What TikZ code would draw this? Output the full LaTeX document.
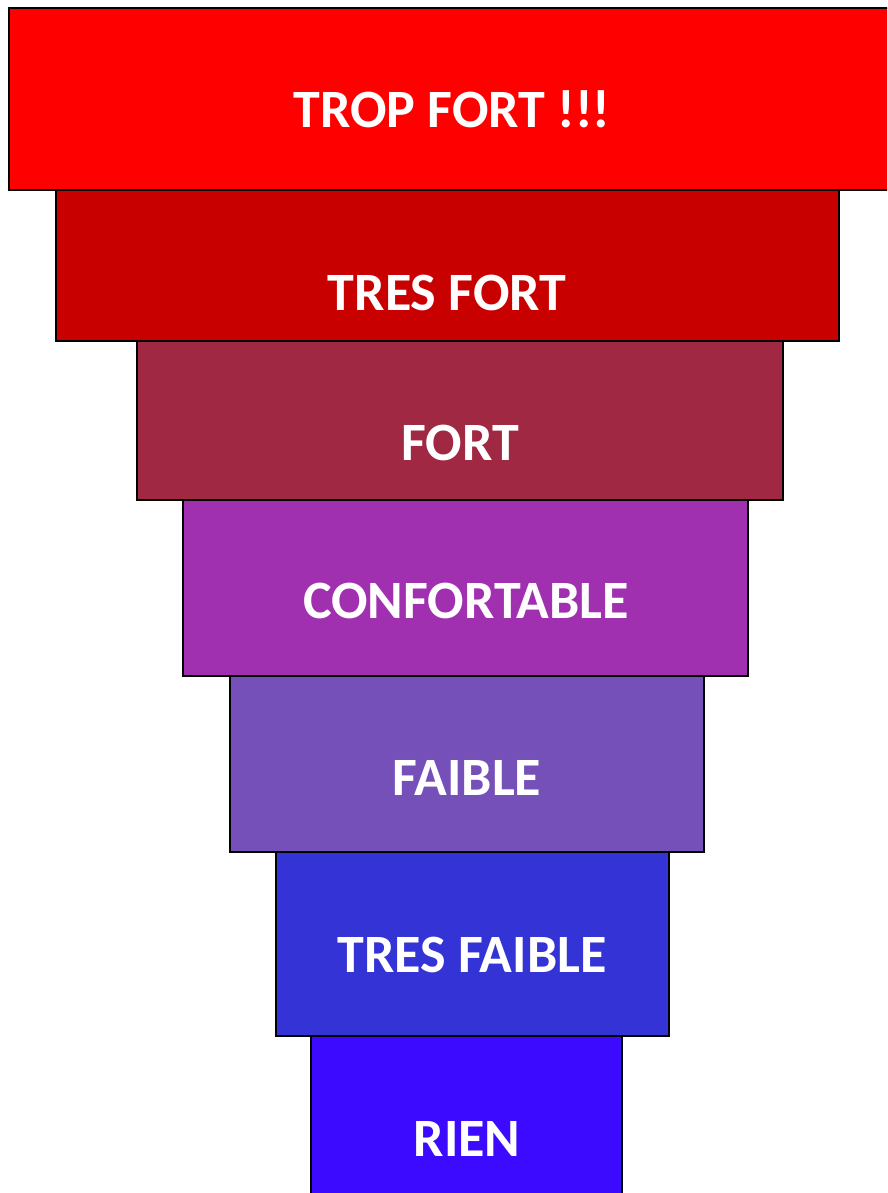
\documentclass[tikz,border=0pt]{standalone}
\usepackage{fontspec}
\setmainfont{Carlito}
\definecolor{c1}{RGB}{255,0,0}
\definecolor{c2}{RGB}{200,0,0}
\definecolor{c3}{RGB}{161,40,66}
\definecolor{c4}{RGB}{160,48,176}
\definecolor{c5}{RGB}{116,80,184}
\definecolor{c6}{RGB}{51,51,214}
\definecolor{c7}{RGB}{60,10,255}
\tikzset{
  tier/.style={draw=black, line width=1.5pt},
  lbl/.style={text=white, font=\fontsize{54}{62}\selectfont\bfseries, anchor=base, inner sep=0pt}
}
\begin{document}
\begin{tikzpicture}[x=1pt,y=-1pt]
\useasboundingbox (0,0) rectangle (887,1193);
\clip (0,0) rectangle (887,1193);
\path[fill=white] (0,0) rectangle (887,1193);
\draw[tier, fill=c1] (9,8) rectangle (900,190);
\draw[tier, fill=c2] (56,190) rectangle (839,341);
\draw[tier, fill=c3] (137,341) rectangle (783,500);
\draw[tier, fill=c4] (183,500) rectangle (748,676);
\draw[tier, fill=c5] (230,676) rectangle (704,852);
\draw[tier, fill=c6] (276,852) rectangle (669,1036);
\draw[tier, fill=c7] (311,1036) rectangle (622,1210);
\node[lbl] (t1) at (452,128) {TROP FORT !!!};
\node[lbl] (t2) at (447,310) {TRES FORT};
\node[lbl] (t3) at (460,460) {FORT};
\node[lbl] (t4) at (466,618) {CONFORTABLE};
\node[lbl] (t5) at (467,795) {FAIBLE};
\node[lbl] (t6) at (472,972) {TRES FAIBLE};
\node[lbl] (t7) at (467,1156) {RIEN};
\end{tikzpicture}
\end{document}
